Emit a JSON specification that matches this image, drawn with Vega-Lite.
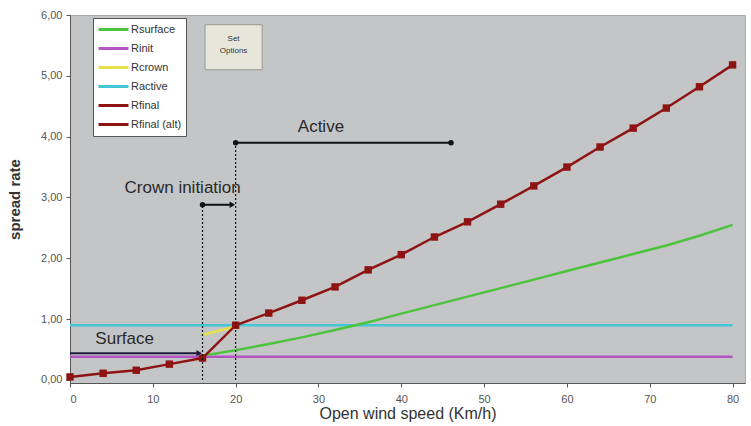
{
  "$schema": "https://vega.github.io/schema/vega-lite/v6.json",
  "autosize": "none",
  "width": 675,
  "height": 368,
  "padding": {"left": 70, "top": 15, "right": 6, "bottom": 43},
  "background": "white",
  "config": {
    "view": {"fill": "#c3c5c7", "stroke": "#a8a8a8"},
    "font": "Liberation Sans"
  },
  "datasets": {
    "lines": [
      {"series": "Rinit", "x": 0, "y": 0.38},
      {"series": "Rinit", "x": 80, "y": 0.38},
      {"series": "Ractive", "x": 0, "y": 0.9},
      {"series": "Ractive", "x": 80, "y": 0.9},
      {"series": "Rcrown", "x": 16, "y": 0.74},
      {"series": "Rcrown", "x": 20, "y": 0.88},
      {"series": "Rsurface", "x": 16, "y": 0.4},
      {"series": "Rsurface", "x": 20, "y": 0.49},
      {"series": "Rsurface", "x": 24, "y": 0.59},
      {"series": "Rsurface", "x": 28, "y": 0.7},
      {"series": "Rsurface", "x": 32, "y": 0.82},
      {"series": "Rsurface", "x": 36, "y": 0.95},
      {"series": "Rsurface", "x": 40, "y": 1.09},
      {"series": "Rsurface", "x": 44, "y": 1.23},
      {"series": "Rsurface", "x": 48, "y": 1.37},
      {"series": "Rsurface", "x": 52, "y": 1.51},
      {"series": "Rsurface", "x": 56, "y": 1.65},
      {"series": "Rsurface", "x": 60, "y": 1.79},
      {"series": "Rsurface", "x": 64, "y": 1.93},
      {"series": "Rsurface", "x": 68, "y": 2.07},
      {"series": "Rsurface", "x": 72, "y": 2.21},
      {"series": "Rsurface", "x": 76, "y": 2.37},
      {"series": "Rsurface", "x": 80, "y": 2.55},
      {"series": "Rfinal", "x": 0, "y": 0.05},
      {"series": "Rfinal", "x": 4, "y": 0.11},
      {"series": "Rfinal", "x": 8, "y": 0.16},
      {"series": "Rfinal", "x": 12, "y": 0.26},
      {"series": "Rfinal", "x": 16, "y": 0.36},
      {"series": "Rfinal", "x": 20, "y": 0.9},
      {"series": "Rfinal", "x": 24, "y": 1.1},
      {"series": "Rfinal", "x": 28, "y": 1.31},
      {"series": "Rfinal", "x": 32, "y": 1.53},
      {"series": "Rfinal", "x": 36, "y": 1.81},
      {"series": "Rfinal", "x": 40, "y": 2.06},
      {"series": "Rfinal", "x": 44, "y": 2.35},
      {"series": "Rfinal", "x": 48, "y": 2.6},
      {"series": "Rfinal", "x": 52, "y": 2.89},
      {"series": "Rfinal", "x": 56, "y": 3.19},
      {"series": "Rfinal", "x": 60, "y": 3.5},
      {"series": "Rfinal", "x": 64, "y": 3.83},
      {"series": "Rfinal", "x": 68, "y": 4.14},
      {"series": "Rfinal", "x": 72, "y": 4.47},
      {"series": "Rfinal", "x": 76, "y": 4.82},
      {"series": "Rfinal", "x": 80, "y": 5.18}
    ],
    "vlines": [
      {"x": 16, "y": 0, "y2": 2.88},
      {"x": 20, "y": 0, "y2": 3.9}
    ],
    "arrows": [
      {"name": "Surface", "x": 0, "x2": 15.6, "y": 0.44, "color": "#1c1c3c"},
      {"name": "Crown initiation", "x": 16, "x2": 19.6, "y": 2.88, "color": "#111111"},
      {"name": "Active", "x": 20, "x2": 46, "y": 3.9, "color": "#111111"}
    ],
    "heads": [
      {"x": 15.6, "y": 0.44, "color": "#1c1c3c"},
      {"x": 19.6, "y": 2.88, "color": "#111111"}
    ],
    "dots": [
      {"x": 16, "y": 2.88},
      {"x": 20, "y": 3.9},
      {"x": 46, "y": 3.9}
    ],
    "labels": [
      {"text": "Surface", "x": 6.6, "y": 0.67},
      {"text": "Crown initiation", "x": 13.6, "y": 3.15},
      {"text": "Active", "x": 30.3, "y": 4.16}
    ],
    "button": [
      {"x": 16.3, "x2": 23.2, "y": 5.1, "y2": 5.84}
    ],
    "buttonText": [
      {"text": "Set", "x": 19.75, "y": 5.6},
      {"text": "Options", "x": 19.75, "y": 5.4}
    ]
  },
  "layer": [
    {
      "data": {"name": "lines"},
      "mark": {"type": "line", "strokeWidth": 2.5},
      "encoding": {
        "x": {
          "field": "x", "type": "quantitative",
          "scale": {"domain": [0, 81.5], "nice": false},
          "axis": {
            "values": [0, 10, 20, 30, 40, 50, 60, 70, 80],
            "title": "Open wind speed (Km/h)",
            "titleFontSize": 16, "titleFontWeight": "normal", "titleColor": "#333",
            "titlePadding": 1,
            "labelFontSize": 11, "labelColor": "#555", "labelPadding": 6,
            "grid": false, "domainColor": "#555", "tickColor": "#555", "tickSize": 4
          }
        },
        "y": {
          "field": "y", "type": "quantitative",
          "scale": {"domain": [-0.05, 6], "nice": false},
          "axis": {
            "values": [0, 1, 2, 3, 4, 5, 6],
            "labelExpr": "replace(format(datum.value, '.2f'), '.', ',')",
            "title": "spread rate",
            "titleFontSize": 15, "titleFontWeight": "bold", "titleColor": "#333",
            "titlePadding": 18,
            "labelFontSize": 11, "labelColor": "#555", "labelPadding": 4,
            "grid": false, "domainColor": "#555", "tickColor": "#555", "tickSize": 4
          }
        },
        "color": {
          "field": "series", "type": "nominal",
          "scale": {
            "domain": ["Rsurface", "Rinit", "Rcrown", "Ractive", "Rfinal", "Rfinal (alt)"],
            "range": ["#4ec43e", "#b455c4", "#e6e04a", "#45c6d6", "#8e1414", "#8e1414"]
          },
          "legend": {
            "title": null,
            "orient": "none",
            "legendX": 23,
            "legendY": 3,
            "fillColor": "white",
            "strokeColor": "#555",
            "padding": 4,
            "symbolType": "stroke",
            "symbolStrokeWidth": 3,
            "symbolSize": 900,
            "clipHeight": 15,
            "labelFontSize": 11,
            "labelColor": "#333",
            "labelOffset": 1,
            "rowPadding": 4
          }
        },
        "order": {"field": "x", "type": "quantitative"}
      }
    },
    {
      "data": {"name": "lines"},
      "transform": [{"filter": "datum.series === 'Rfinal'"}],
      "mark": {"type": "point", "shape": "square", "filled": true, "size": 55, "color": "#8e1414", "opacity": 1},
      "encoding": {
        "x": {"field": "x", "type": "quantitative"},
        "y": {"field": "y", "type": "quantitative"}
      }
    },
    {
      "data": {"name": "vlines"},
      "mark": {"type": "rule", "strokeDash": [2, 2], "strokeWidth": 1.2, "color": "#111"},
      "encoding": {
        "x": {"field": "x", "type": "quantitative"},
        "y": {"field": "y", "type": "quantitative"},
        "y2": {"field": "y2"}
      }
    },
    {
      "data": {"name": "arrows"},
      "mark": {"type": "rule", "strokeWidth": 2},
      "encoding": {
        "x": {"field": "x", "type": "quantitative"},
        "x2": {"field": "x2"},
        "y": {"field": "y", "type": "quantitative"},
        "color": {"field": "color", "type": "nominal", "scale": null}
      }
    },
    {
      "data": {"name": "heads"},
      "mark": {"type": "point", "shape": "triangle-right", "filled": true, "size": 40, "opacity": 1},
      "encoding": {
        "x": {"field": "x", "type": "quantitative"},
        "y": {"field": "y", "type": "quantitative"},
        "color": {"field": "color", "type": "nominal", "scale": null}
      }
    },
    {
      "data": {"name": "dots"},
      "mark": {"type": "point", "shape": "circle", "filled": true, "size": 30, "color": "#111", "opacity": 1},
      "encoding": {
        "x": {"field": "x", "type": "quantitative"},
        "y": {"field": "y", "type": "quantitative"}
      }
    },
    {
      "data": {"name": "labels"},
      "mark": {"type": "text", "fontSize": 17, "color": "#2a2a2a", "align": "center", "baseline": "middle"},
      "encoding": {
        "x": {"field": "x", "type": "quantitative"},
        "y": {"field": "y", "type": "quantitative"},
        "text": {"field": "text"}
      }
    },
    {
      "data": {"name": "button"},
      "mark": {"type": "rect", "fill": "#e6e6da", "stroke": "#9a9a90", "strokeWidth": 1},
      "encoding": {
        "x": {"field": "x", "type": "quantitative"},
        "x2": {"field": "x2"},
        "y": {"field": "y", "type": "quantitative"},
        "y2": {"field": "y2"}
      }
    },
    {
      "data": {"name": "buttonText"},
      "mark": {"type": "text", "fontSize": 8, "color": "#333", "align": "center", "baseline": "middle"},
      "encoding": {
        "x": {"field": "x", "type": "quantitative"},
        "y": {"field": "y", "type": "quantitative"},
        "text": {"field": "text"}
      }
    }
  ]
}
